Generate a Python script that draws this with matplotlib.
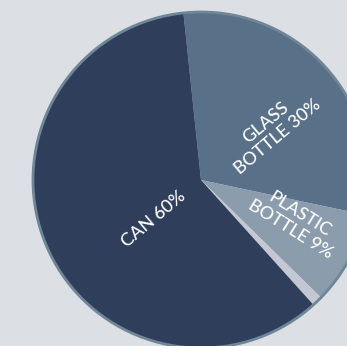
import matplotlib
matplotlib.use("Agg")
import matplotlib.pyplot as plt
from matplotlib.patches import Circle

# Data (clockwise from top)
categories = ["GLASS\nBOTTLE 30%", "PLASTIC\nBOTTLE 9%", "OTHER", "CAN 60%"]
values = [30, 9, 1, 60]
colors = ["#587088", "#8b9cac", "#c3c8d3", "#2f3f5b"]

W, H = 347, 346
fig = plt.figure(figsize=(W / 100, H / 100), dpi=100)
fig.patch.set_facecolor("#dcdfe4")
ax = fig.add_axes([0, 0, 1, 1])
ax.set_facecolor("#dcdfe4")

cx, cy, r = 201, H - 180, 168
wedges, _ = ax.pie(values, colors=colors, startangle=96, counterclock=False,
                   center=(cx, cy), radius=r, frame=True,
                   wedgeprops=dict(linewidth=0))
ax.set_xlim(0, W)
ax.set_ylim(0, H)
ax.set_aspect("equal")
ax.axis("off")
ax.add_patch(Circle((cx, cy), r, facecolor="none", edgecolor="#6e8696", linewidth=2))

font = dict(family=["Lato", "DejaVu Sans"], color="white", fontsize=13,
            fontweight="medium", ha="center", va="center", linespacing=1.15)
ax.text(154, H - 219, categories[3], rotation=40, **font)
ax.text(272, H - 130, categories[0], rotation=40, **font)
ax.text(295, H - 222, categories[1], rotation=-32, **font)

fig.savefig("out.png", dpi=100, facecolor=fig.get_facecolor())
